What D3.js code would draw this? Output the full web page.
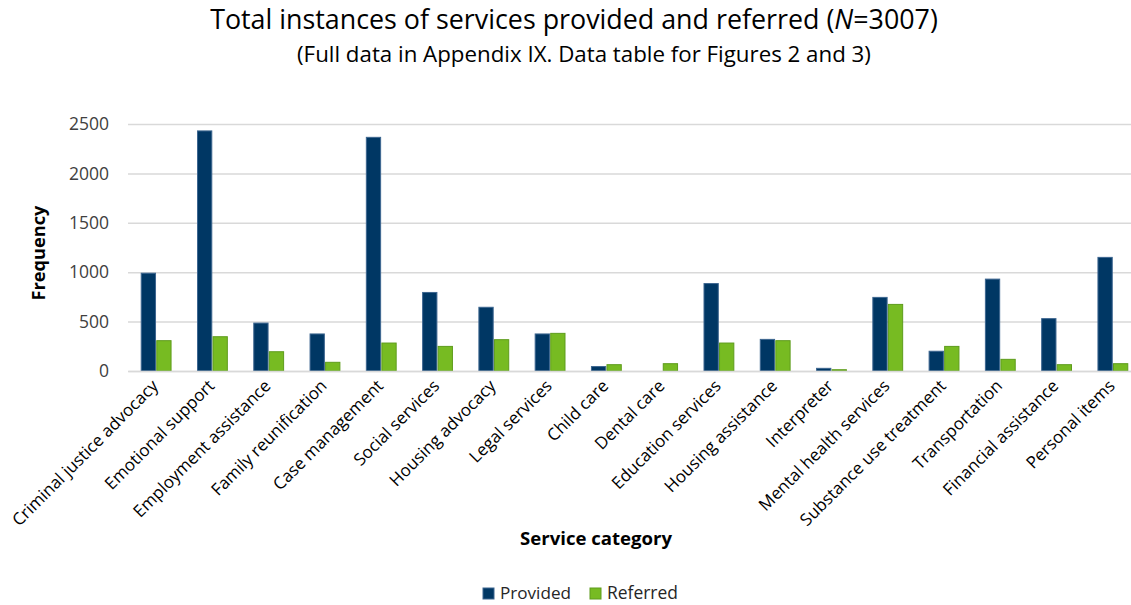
<!DOCTYPE html>
<html>
<head>
<meta charset="utf-8">
<script src="https://cdn.jsdelivr.net/npm/d3@7"></script>
<style>
  body { margin: 0; background: #fff; }
  text { font-family: "Open Sans", "Noto Sans", sans-serif; }
</style>
</head>
<body>
<div id="wrapper"></div>
<script>
const categories = [
    "Criminal justice advocacy", "Emotional support", "Employment assistance",
    "Family reunification", "Case management", "Social services",
    "Housing advocacy", "Legal services", "Child care", "Dental care",
    "Education services", "Housing assistance", "Interpreter",
    "Mental health services", "Substance use treatment", "Transportation",
    "Financial assistance", "Personal items"
];
const provided = [990, 2430, 485, 375, 2365, 795, 645, 375, 45, 0, 885, 320, 27, 745, 200, 930, 530, 1150];
const referred = [307, 347, 195, 88, 283, 249, 317, 381, 64, 74, 283, 307, 13, 674, 249, 118, 64, 74];
const seriesNames = ["Provided", "Referred"];
const yTicks = [0, 500, 1000, 1500, 2000, 2500];

const colors = { Provided: "#003764", Referred: "#77bb22" };
const strokes = { Provided: "#3d6690", Referred: "#5e9c1c" };

var dimension = {
    width: 1131,
    height: 605,
    margin: { top: 124, left: 128, bottom: 234, right: -10 }
};
dimension.boundedWidth = dimension.width - dimension.margin.left - dimension.margin.right;
dimension.boundedHeight = dimension.height - dimension.margin.top - dimension.margin.bottom;

const svg = d3.select("#wrapper").append("svg")
    .attr("width", dimension.width)
    .attr("height", dimension.height);

// shrink / grow a text so it is as wide as the reference one
function fitWidth(sel, target) {
    const w = sel.node().getComputedTextLength();
    const fs = parseFloat(sel.attr("font-size"));
    sel.attr("font-size", fs * target / w);
}

// title
const title = svg.append("text")
    .attr("x", 574).attr("y", 29)
    .attr("text-anchor", "middle")
    .attr("font-size", 24)
    .attr("fill", "#000");
title.append("tspan").text("Total instances of services provided and referred (");
title.append("tspan").attr("font-style", "italic").text("N");
title.append("tspan").text("=3007)");
fitWidth(title, 728);

const subtitle = svg.append("text")
    .attr("x", 584).attr("y", 62)
    .attr("text-anchor", "middle")
    .attr("font-size", 20)
    .attr("fill", "#000")
    .text("(Full data in Appendix IX. Data table for Figures 2 and 3)");
fitWidth(subtitle, 574);

const bounded = svg.append("g")
    .attr("transform", `translate(${dimension.margin.left},${dimension.margin.top})`);

const yScaler = d3.scaleLinear()
    .domain([0, 2500])
    .range([dimension.boundedHeight, 0]);

const x0 = d3.scaleBand()
    .domain(categories)
    .range([0, dimension.boundedWidth])
    .paddingInner(0.47)
    .paddingOuter(0.235);

const x1 = d3.scaleBand()
    .domain(seriesNames)
    .range([0, x0.bandwidth()])
    .paddingInner(0.08);

// gridlines
const yAxisGroup = bounded.append("g")
    .call(d3.axisLeft(yScaler).tickValues(yTicks).tickFormat(d3.format("d"))
        .tickSize(-dimension.boundedWidth).tickPadding(19));
yAxisGroup.select(".domain").remove();
yAxisGroup.selectAll(".tick line").attr("stroke", "#d9d9d9").attr("stroke-width", 1.5);
yAxisGroup.selectAll(".tick text")
    .attr("font-family", "Open Sans, sans-serif")
    .attr("font-size", 17.5)
    .attr("fill", "#404040");

// bars
const rows = categories.map((c, i) => ({ category: c, Provided: provided[i], Referred: referred[i] }));
const groups = bounded.append("g").selectAll("g")
    .data(rows)
    .join("g")
    .attr("transform", d => `translate(${x0(d.category)},0)`);

groups.selectAll("rect")
    .data(d => seriesNames.map(k => ({ key: k, value: d[k] })).filter(d => d.value > 0))
    .join("rect")
    .attr("x", d => x1(d.key))
    .attr("width", x1.bandwidth())
    .attr("y", d => yScaler(d.value))
    .attr("height", d => dimension.boundedHeight - yScaler(d.value))
    .attr("fill", d => colors[d.key])
    .attr("stroke", d => strokes[d.key])
    .attr("stroke-width", 1);

// x axis
const xAxisGroup = bounded.append("g")
    .attr("transform", `translate(0,${dimension.boundedHeight})`)
    .call(d3.axisBottom(x0).tickSize(0).tickPadding(0));
xAxisGroup.select(".domain").attr("stroke", "#d9d9d9").attr("stroke-width", 1.5);
xAxisGroup.selectAll(".tick text")
    .attr("font-family", "Open Sans, sans-serif")
    .attr("font-size", 15)
    .attr("fill", "#000")
    .attr("text-anchor", "end")
    .attr("dy", 0)
    .attr("transform", "translate(3,16) rotate(-45)");
const firstLabel = xAxisGroup.select(".tick text");
const k = 198 / firstLabel.node().getComputedTextLength();
xAxisGroup.selectAll(".tick text").attr("font-size", 15 * k);

// axis titles
const yTitle = svg.append("text")
    .attr("transform", "translate(45,253) rotate(-90)")
    .attr("text-anchor", "middle")
    .attr("font-weight", "bold")
    .attr("font-size", 17)
    .text("Frequency");
fitWidth(yTitle, 95);

const xTitle = svg.append("text")
    .attr("x", 596).attr("y", 545)
    .attr("text-anchor", "middle")
    .attr("font-weight", "bold")
    .attr("font-size", 17)
    .text("Service category");
fitWidth(xTitle, 152);

// legend
const legendX = [483, 590];
const legend = svg.append("g").selectAll("g")
    .data(seriesNames)
    .join("g")
    .attr("transform", (d, i) => `translate(${legendX[i]},588)`);
legend.append("rect")
    .attr("width", 11).attr("height", 11)
    .attr("fill", d => colors[d])
    .attr("stroke", d => strokes[d]);
legend.append("text")
    .attr("x", 17).attr("y", 11)
    .attr("font-size", 16)
    .attr("fill", "#262626")
    .text(d => d)
    .each(function () { fitWidth(d3.select(this), 71); });
</script>
</body>
</html>
